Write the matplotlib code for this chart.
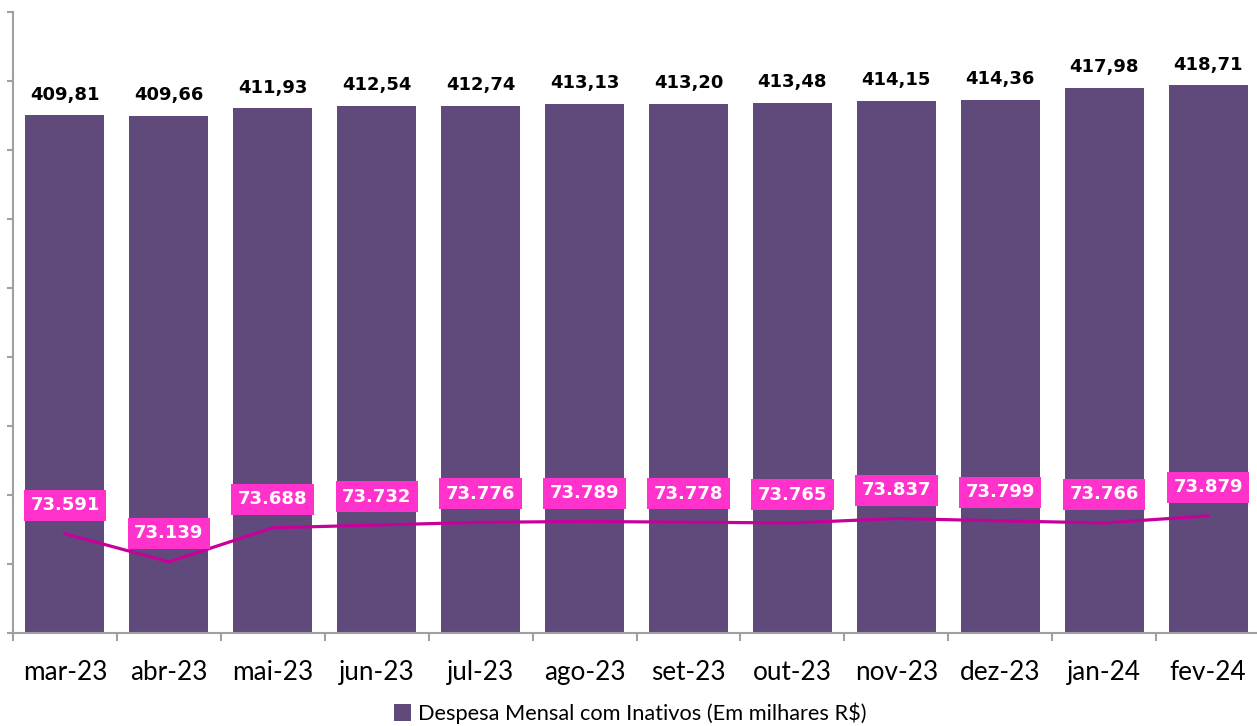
import matplotlib
matplotlib.use("Agg")
import matplotlib.pyplot as plt
import numpy as np

categories = ["mar-23", "abr-23", "mai-23", "jun-23", "jul-23", "ago-23",
              "set-23", "out-23", "nov-23", "dez-23", "jan-24", "fev-24"]
despesa = [409.81, 409.66, 411.93, 412.54, 412.74, 413.13,
           413.20, 413.48, 414.15, 414.36, 417.98, 418.71]
inativos = [73.591, 73.139, 73.688, 73.732, 73.776, 73.789,
            73.778, 73.765, 73.837, 73.799, 73.766, 73.879]

W, H = 1257, 726
fig = plt.figure(figsize=(W / 100, H / 100), dpi=100)
fig.patch.set_facecolor("white")
left, right, top, bottom = 13, 1260, 12, 632.5
ax = fig.add_axes([left / W, 1 - bottom / H, (right - left) / W, (bottom - top) / H])

x = np.arange(len(categories))
bar_color = "#604A7B"
bars = ax.bar(x, despesa, width=0.76, color=bar_color, zorder=2,
              label="Despesa Mensal com Inativos (Em milhares R$)")
ax.set_xlim(-0.5, len(categories) - 0.5)
ax.set_ylim(256.5, 440.5)
ax.set_yticks(np.linspace(256.5, 440.5, 10))
ax.set_yticklabels([])
ax.set_xticks(x)
ax.set_xticklabels(categories, fontsize=18.8, family="Lato")
ax.set_xticks(np.arange(-0.5, len(categories), 1.0), minor=True)
ax.tick_params(axis="x", which="major", length=0, pad=20)
ax.tick_params(axis="x", which="minor", length=6, width=1.5, color="#a0a0a0", direction="out")
ax.tick_params(axis="y", length=4, width=1.5, color="#a0a0a0", direction="out")
for s in ["top", "right"]:
    ax.spines[s].set_visible(False)
for s in ["left", "bottom"]:
    ax.spines[s].set_color("#a0a0a0")
    ax.spines[s].set_linewidth(1.5)

for xi, v in zip(x, despesa):
    ax.annotate(f"{v:.2f}".replace(".", ","), (xi, v), xytext=(0, 15),
                textcoords="offset points", ha="center", va="center",
                fontsize=13, fontweight="bold", color="black", family="DejaVu Sans")

ax2 = ax.twinx()
ax2.set_ylim(72, 82)
ax2.axis("off")
ax2.plot(x, inativos, color="#C8009A", linewidth=2.3, zorder=3)
for xi, v in zip(x, inativos):
    ax2.annotate(f"{v:.3f}", (xi, v), xytext=(0, 20.5),
                 textcoords="offset points", ha="center", va="center",
                 fontsize=13, fontweight="bold", color="white", family="DejaVu Sans",
                 bbox=dict(boxstyle="square,pad=0.36", fc="#FF33CC", ec="none"), zorder=5)

fig.legend(handles=[bars], labels=["Despesa Mensal com Inativos (Em milhares R$)"],
           loc="center", bbox_to_anchor=(630 / W, 1 - 713 / H), frameon=False,
           prop=dict(family="Lato", size=15.7), handlelength=0.8, handleheight=0.8,
           handletextpad=0.3)

fig.savefig("out.png", dpi=100)
